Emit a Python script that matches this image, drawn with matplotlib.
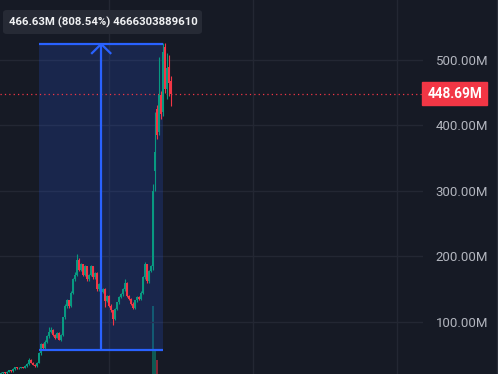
import numpy as np
import matplotlib
matplotlib.use('Agg')
import matplotlib.pyplot as plt
from matplotlib.patches import Rectangle, FancyBboxPatch
from matplotlib.ticker import FuncFormatter

# candle data, values in millions
opens = [21, 22, 23, 22, 24, 26, 25, 28, 31, 29, 30, 31, 30, 33, 36, 42, 38, 35, 33, 38,
         52, 66, 60, 70, 78, 85, 88, 80, 76, 83, 73, 80, 107, 125, 133, 124, 145, 165, 172, 195,
         180, 188, 172, 185, 165, 172, 185, 168, 175, 150, 158, 146, 150, 132, 140, 125, 118, 105, 120, 130,
         138, 142, 150, 160, 140, 135, 128, 122, 133, 138, 135, 145, 168, 188, 162, 178, 185, 330, 425, 390,
         446, 420, 520, 455, 490, 468]
closes = [22, 23, 22, 24, 26, 25, 28, 31, 29, 30, 31, 30, 33, 36, 42, 38, 35, 33, 38, 52,
          66, 60, 70, 78, 85, 88, 80, 76, 83, 73, 80, 107, 125, 133, 124, 145, 165, 172, 195, 180,
          188, 172, 185, 165, 172, 185, 168, 175, 150, 158, 146, 150, 132, 140, 125, 118, 105, 120, 130, 138,
          142, 150, 160, 140, 135, 128, 122, 133, 138, 135, 145, 168, 188, 162, 178, 185, 300, 360, 385, 446,
          418, 512, 455, 488, 465, 448.69]
highs = [23, 24, 24, 25, 27, 27, 29, 32, 32, 31, 32, 32, 34, 38, 45, 43, 39, 36, 39, 54,
         68, 68, 72, 80, 92, 93, 89, 81, 84, 84, 81, 108, 127, 135, 134, 147, 167, 176, 204, 197,
         190, 189, 187, 186, 174, 187, 186, 177, 176, 159, 160, 152, 152, 141, 141, 127, 119, 121, 131, 139,
         144, 152, 165, 161, 141, 137, 130, 134, 140, 139, 147, 170, 192, 189, 179, 187, 310, 420, 432, 505,
         452, 526, 526, 510, 508, 475]
lows = [20, 21, 21, 21, 23, 24, 24, 27, 28, 28, 29, 29, 29, 32, 35, 37, 34, 32, 32, 37,
        50, 58, 58, 68, 76, 83, 79, 74, 75, 72, 71, 78, 105, 122, 122, 123, 143, 163, 170, 178,
        178, 170, 170, 163, 163, 170, 166, 166, 148, 148, 144, 144, 123, 130, 123, 116, 96, 103, 118, 128,
        136, 140, 148, 138, 133, 126, 120, 120, 131, 133, 133, 143, 166, 160, 160, 176, 180, 300, 380, 385,
        410, 415, 450, 440, 445, 430]
volumes = [2, 2, 1, 2, 2, 1, 2, 3, 2, 2, 2, 1, 2, 3, 4, 3, 2, 2, 2, 4,
           5, 4, 3, 3, 4, 4, 3, 3, 3, 3, 2, 5, 5, 4, 4, 4, 5, 4, 5, 4,
           3, 3, 3, 3, 3, 3, 3, 3, 4, 3, 3, 3, 4, 3, 3, 3, 4, 3, 3, 3,
           3, 3, 4, 3, 3, 3, 3, 3, 3, 3, 3, 4, 5, 4, 3, 3, 76, 32, 22, 6,
           5, 5, 5, 4, 4, 3]

ticks = [100, 200, 300, 400, 500]
last_price = 448.69
rect_low = 57.71
rect_high = 524.34
info_text = '466.63M (808.54%) 4666303889610'

bg = '#161a25'
green = '#089981'
red = '#f23645'
blue = '#2962ff'

plt.rcParams['font.family'] = ['Roboto', 'DejaVu Sans']

fig = plt.figure(figsize=(4.98, 3.74), dpi=100)
fig.patch.set_facecolor(bg)
ax = fig.add_axes([0, 0, 423 / 498, 1])
ax.set_facecolor(bg)
for s in ax.spines.values():
    s.set_visible(False)

x = np.arange(len(opens))
ax.set_xlim(-0.5, 211)
ax.set_ylim(20.6, 591.6)

# volume on its own scale, baseline hidden below the bottom edge
vax = ax.twinx()
vax.set_ylim(8, 382)
vax.axis('off')
vax.set_zorder(0)
ax.set_zorder(1)
ax.patch.set_visible(False)
vcol = [green if c >= o else red for o, c in zip(opens, closes)]
vax.bar(x, volumes, width=0.7, color=vcol, alpha=0.5, lw=0)

# grid
ax.set_yticks(ticks)
ax.set_xticks([54, 126, 198])
ax.grid(True, color='#232733', lw=1)
ax.set_axisbelow(True)
ax.tick_params(axis='x', bottom=False, labelbottom=False)
ax.yaxis.tick_right()
ax.tick_params(axis='y', left=False, labelleft=False, right=False, labelright=True,
               length=0, pad=9, colors='#b2b5be', labelsize=9.5)
ax.yaxis.set_major_formatter(FuncFormatter(lambda v, p: '%.2fM' % v))

# measure box
ax.add_patch(Rectangle((19.2, rect_low), 81 - 19.2, rect_high - rect_low,
                       facecolor=blue, alpha=0.18, lw=0, zorder=1))

# candles
for i in range(len(opens)):
    col = green if closes[i] >= opens[i] else red
    ax.vlines(i, lows[i], highs[i], color=col, lw=0.8, zorder=3)
    lo = min(opens[i], closes[i])
    h = max(abs(closes[i] - opens[i]), 0.8)
    ax.add_patch(Rectangle((i - 0.35, lo), 0.7, h, facecolor=col, lw=0, zorder=3))

# measure lines and arrow
ax.hlines([rect_low, rect_high], 19.2, 81, color=blue, lw=1.6, zorder=4)
mid = (19.2 + 81) / 2
ax.vlines(mid, rect_low, rect_high, color=blue, lw=1.6, zorder=4)
ax.plot([mid - 5, mid, mid + 5], [rect_high - 15, rect_high, rect_high - 15],
        color=blue, lw=1.6, zorder=4, solid_capstyle='butt')

# last price line + label
ax.axhline(last_price, color=red, lw=0.9, ls=(0, (1, 2.5)), zorder=2)
ax.text(1.01, last_price, '%.2fM' % last_price, transform=ax.get_yaxis_transform(),
        va='center', ha='left', color='white', fontsize=9.8, fontweight='bold',
        bbox=dict(boxstyle='square,pad=0.35', facecolor=red, edgecolor=red), zorder=5)

# info box at top left
fig.patches.append(FancyBboxPatch((3 / 498, 1 - 34 / 374), 199 / 498, 24 / 374,
                                  boxstyle='round,pad=0,rounding_size=0.008',
                                  transform=fig.transFigure, facecolor='#262a35',
                                  edgecolor='none'))
fig.text(9 / 498, 1 - 22 / 374, info_text, color='#f0f1f3', fontsize=8.2,
         fontweight='bold', va='center', ha='left')

# right edge border
fig.add_artist(plt.Line2D([497 / 498, 497 / 498], [0, 1], color='#2a2e39', lw=1,
                          transform=fig.transFigure))

fig.savefig('out.png', dpi=100, facecolor=bg)
